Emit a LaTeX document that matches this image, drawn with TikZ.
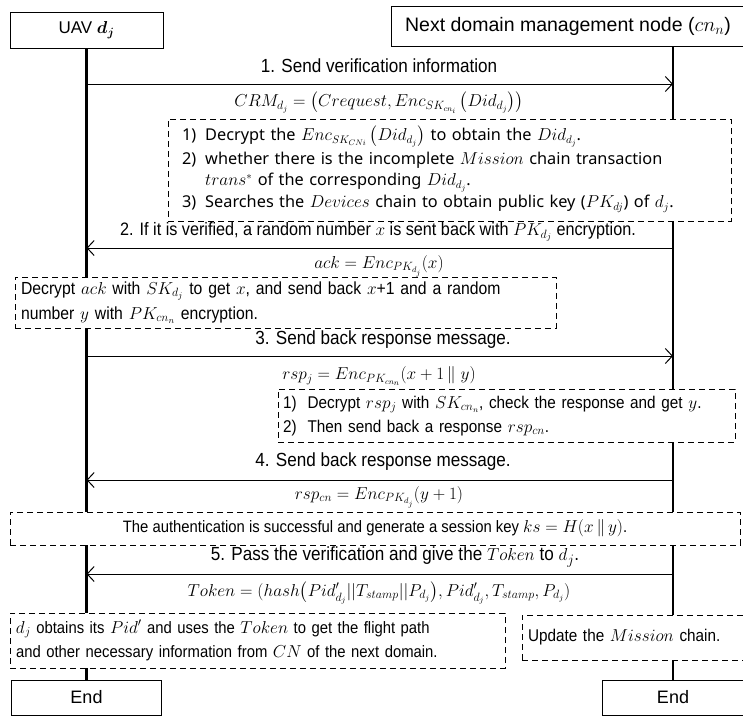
\documentclass[tikz,border=0pt]{standalone}
\usepackage{amsmath}
\usepackage{fontspec}
\setmainfont{Liberation Sans}
\newfontfamily\narrowfont{Liberation Sans}[FakeStretch=0.9]
\newfontfamily\notefont{Noto Sans}
\usetikzlibrary{arrows.meta}

\tikzset{
  actor/.style={draw, line width=1pt, fill=white, inner sep=0pt,
    font=\fontsize{18}{21}\selectfont},
  lifeline/.style={line width=2.8pt},
  msg/.style={line width=1pt, -{Straight Barb[length=7pt,width=15pt,line width=1pt]}},
  lbl/.style={inner sep=0pt, font=\narrowfont\fontsize{19}{22}\selectfont},
  formula/.style={inner sep=0pt, font=\narrowfont\fontsize{16.5}{19}\selectfont},
  note/.style={draw, dash pattern=on 6pt off 4pt, line width=1pt, fill=white,
    align=left, inner ysep=0pt},
}

\begin{document}
\begin{tikzpicture}[x=1pt,y=-1pt]
\useasboundingbox (0,0) rectangle (743,718);

% participants and end markers
\node[actor, minimum width=153pt, minimum height=36pt, font=\fontsize{17}{20}\selectfont] (uav) at (86.5,30) {UAV $\boldsymbol{d_j}$};
\node[actor, minimum width=354pt, minimum height=40pt, font=\fontsize{19.5}{22}\selectfont] (cn) at (568,26) {Next domain management node ($cn_n$)};
\node[actor, minimum width=150pt, minimum height=35pt] (endL) at (86.5,697.5) {End};
\node[actor, minimum width=142pt, minimum height=35pt] (endR) at (673,697.5) {End};

% lifelines
\draw[lifeline] (uav.south) -- (endL.north);
\draw[lifeline] (endR.north |- cn.south) -- (endR.north);

% 1. verification request
\node[lbl] (l1) at (379,66) {1. Send verification information};
\draw[msg] (uav.south |- 0,84) -- (endR.north |- 0,84);
\node[formula] (f1) at (379,103) {$CRM_{d_j} = \left(Crequest, Enc_{SK_{cn_i}}\left(Did_{d_j}\right)\right)$};

\node[note, text width=535pt, inner xsep=14pt, minimum height=102pt,
  font=\notefont\fontsize{16.3}{22}\selectfont] (n1) at (449.5,170) {%
  \begin{tabular}{@{}l@{\hspace{9pt}}l@{}}
  1) & Decrypt the $Enc_{SK_{CNi}}\left(Did_{d_j}\right)$ to obtain the $Did_{d_j}$.\\[2pt]
  2) & whether there is the incomplete $Mission$ chain transaction\\[-1pt]
     & $trans^{*}$ of the corresponding $Did_{d_j}$.\\[0pt]
  3) & Searches the $Devices$ chain to obtain public key ($PK_{dj}$) of $d_j$.
  \end{tabular}};

% 2. challenge
\node[lbl, font=\narrowfont\fontsize{18}{21}\selectfont] (l2) at (378,232) {2. If it is verified, a random number $x$ is sent back with $PK_{d_j}$ encryption.};
\draw[msg] (endR.north |- 0,248) -- (uav.south |- 0,248);
\node[formula] (f2) at (379,266) {$ack = Enc_{PK_{d_j}}(x)$};

\node[note, text width=529pt, inner xsep=6pt, minimum height=51pt,
  font=\narrowfont\fontsize{17.5}{25}\selectfont] (n2) at (285.5,302.5) {%
  Decrypt $ack$ with $SK_{d_j}$ to get $x$, and send back $x$+1 and a random\\
  number $y$ with $PK_{cn_n}$ encryption.};

% 3. response
\node[lbl] (l3) at (383,340) {3. Send back response message.};
\draw[msg] (uav.south |- 0,356) -- (endR.north |- 0,356);
\node[formula] (f3) at (379,376) {$rsp_j = Enc_{PK_{cn_n}}(x+1\,\|\;y)$};

\node[note, text width=447pt, inner xsep=5pt, minimum height=53pt,
  font=\narrowfont\fontsize{17}{24}\selectfont] (n3) at (506.5,415.5) {%
  \begin{tabular}{@{}l@{\hspace{11pt}}l@{}}
  1) & Decrypt $rsp_j$ with $SK_{cn_n}$, check the response and get $y$.\\
  2) & Then send back a response $rsp_{cn}$.
  \end{tabular}};

% 4. server response
\node[lbl] (l4) at (383,462) {4. Send back response message.};
\draw[msg] (endR.north |- 0,480) -- (uav.south |- 0,480);
\node[formula] (f4) at (379,497) {$rsp_{cn} = Enc_{PK_{d_j}}(y+1)$};

\node[note, align=center, minimum width=730pt, minimum height=33pt, inner xsep=0pt,
  font=\narrowfont\fontsize{16.5}{20}\selectfont] (n4) at (375,528.5) {%
  The authentication is successful and generate a session key $ks = H(x\,\|\,y)$.};

% 5. token delivery
\node[lbl] (l5) at (395,557) {5. Pass the verification and give the $Token$ to $d_j$.};
\draw[msg] (endR.north |- 0,574) -- (uav.south |- 0,574);
\node[formula] (f5) at (379,593) {$Token = (hash\bigl(Pid'_{d_j}||T_{stamp}||P_{d_j}\bigr), Pid'_{d_j}, T_{stamp}, P_{d_j})$};

\node[note, text width=483pt, inner xsep=6pt, minimum height=55pt,
  font=\narrowfont\fontsize{16.5}{24}\selectfont] (n5) at (257.5,640.5) {%
  $d_j$ obtains its $Pid'$ and uses the $Token$ to get the flight path\\
  and other necessary information from $CN$ of the next domain.};

\node[note, text width=211pt, inner xsep=6pt, minimum height=45pt,
  font=\narrowfont\fontsize{17}{24}\selectfont] (n6) at (633.5,637.5) {%
  Update the $Mission$ chain.};
\end{tikzpicture}
\end{document}
